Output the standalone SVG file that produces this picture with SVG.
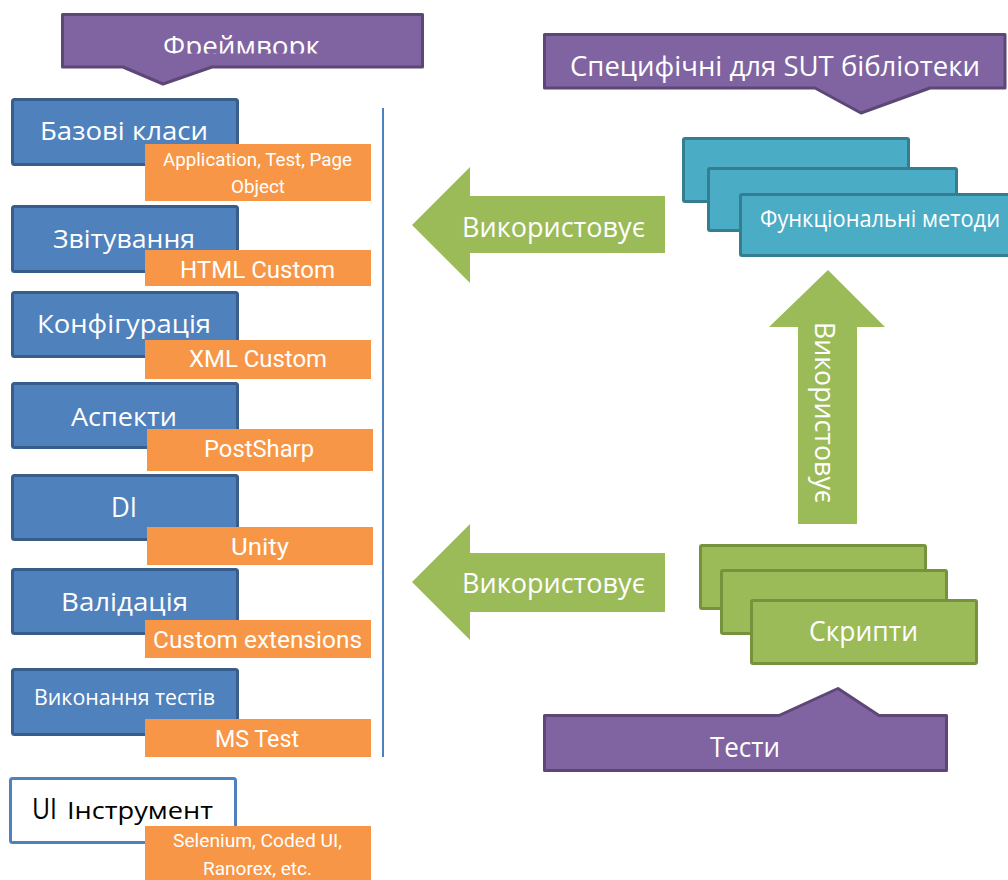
<svg xmlns="http://www.w3.org/2000/svg" width="1008" height="880" viewBox="0 0 1008 880">
<defs>
<style>
.call{fill:#8064a2;stroke:#5c4776;stroke-width:3;stroke-linejoin:round}
.blue{fill:#4f81bd;stroke:#385d8a;stroke-width:3}
.tool{fill:#ffffff;stroke:#4f81bd;stroke-width:3}
.org{fill:#f79646}
.teal{fill:#4bacc6;stroke:#357d91;stroke-width:3}
.grn{fill:#9bbb59;stroke:#76923c;stroke-width:3}
.arrow{fill:#9bbb59}
.t{font-family:"Open Sans","Noto Sans","Liberation Sans",sans-serif;fill:#ffffff}
.o{font-family:Roboto,"Liberation Sans",sans-serif;fill:#ffffff}
.k{font-family:"Open Sans","Noto Sans","Liberation Sans",sans-serif;fill:#000000}
</style>
<clipPath id="fwclip"><rect x="61" y="0" width="363" height="53.5"/></clipPath>
</defs>

<g id="framework-header">
<path class="call" d="M62.5,14.5 H422.5 V67 H212 L163,84 L123,67 H62.5 Z"/>
<text class="t" x="163" y="56" font-size="28" textLength="157" lengthAdjust="spacingAndGlyphs" clip-path="url(#fwclip)">Фреймворк</text>
</g>

<g id="sut-header">
<path class="call" d="M544.5,34.5 H1005 V88 H930 L861,113 L815,88 H544.5 Z"/>
<text class="t" x="570" y="76" font-size="28" textLength="410" lengthAdjust="spacingAndGlyphs">Специфічні для SUT бібліотеки</text>
</g>

<line x1="383" y1="108" x2="383" y2="757" stroke="#4f81bd" stroke-width="2"/>

<g id="base-classes">
<rect class="blue" x="12.5" y="99.5" width="225" height="65" rx="2"/>
<rect class="org" x="145" y="144" width="226" height="57"/>
<text class="t" x="40" y="140" font-size="26" textLength="168" lengthAdjust="spacingAndGlyphs">Базові класи</text>
<text class="o" x="163" y="166" font-size="19" textLength="189" lengthAdjust="spacingAndGlyphs">Application, Test, Page</text>
<text class="o" x="231" y="193" font-size="19" textLength="54" lengthAdjust="spacingAndGlyphs">Object</text>
</g>

<g id="reporting">
<rect class="blue" x="12.5" y="206.5" width="225" height="65" rx="2"/>
<rect class="org" x="145" y="250" width="226" height="36"/>
<text class="t" x="53" y="248" font-size="26" textLength="142" lengthAdjust="spacingAndGlyphs">Звітування</text>
<text class="o" x="180" y="278" font-size="24" textLength="155" lengthAdjust="spacingAndGlyphs">HTML Custom</text>
</g>

<g id="configuration">
<rect class="blue" x="12.5" y="292.5" width="225" height="64" rx="2"/>
<rect class="org" x="145" y="340" width="226" height="39"/>
<text class="t" x="37" y="333" font-size="26" textLength="174" lengthAdjust="spacingAndGlyphs">Конфігурація</text>
<text class="o" x="189" y="367" font-size="24" textLength="138" lengthAdjust="spacingAndGlyphs">XML Custom</text>
</g>

<g id="aspects">
<rect class="blue" x="12.5" y="383.5" width="225" height="64" rx="2"/>
<rect class="org" x="147" y="429" width="226" height="42"/>
<text class="t" x="71" y="426" font-size="26" textLength="106" lengthAdjust="spacingAndGlyphs">Аспекти</text>
<text class="o" x="204" y="457" font-size="24" textLength="110" lengthAdjust="spacingAndGlyphs">PostSharp</text>
</g>

<g id="di">
<rect class="blue" x="12.5" y="475.5" width="225" height="64" rx="2"/>
<rect class="org" x="147" y="527" width="226" height="38"/>
<text class="t" x="111" y="517" font-size="28" textLength="26" lengthAdjust="spacingAndGlyphs">DI</text>
<text class="o" x="231" y="555" font-size="24" textLength="58" lengthAdjust="spacingAndGlyphs">Unity</text>
</g>

<g id="validation">
<rect class="blue" x="12.5" y="569.5" width="225" height="64" rx="2"/>
<rect class="org" x="145" y="620" width="226" height="38"/>
<text class="t" x="61" y="611" font-size="26" textLength="127" lengthAdjust="spacingAndGlyphs">Валідація</text>
<text class="o" x="153" y="648" font-size="24" textLength="209" lengthAdjust="spacingAndGlyphs">Custom extensions</text>
</g>

<g id="test-execution">
<rect class="blue" x="12.5" y="669.5" width="225" height="65" rx="2"/>
<rect class="org" x="145" y="719" width="226" height="38"/>
<text class="t" x="34" y="705" font-size="21" textLength="181" lengthAdjust="spacingAndGlyphs">Виконання тестів</text>
<text class="o" x="215" y="747" font-size="24" textLength="84" lengthAdjust="spacingAndGlyphs">MS Test</text>
</g>

<g id="ui-tool">
<rect class="tool" x="10.5" y="778.5" width="225" height="64" rx="2"/>
<rect class="org" x="145" y="826" width="226" height="54"/>
<text class="k" y="819"><tspan x="32" font-size="29" textLength="25" lengthAdjust="spacingAndGlyphs">UI</tspan><tspan x="67" font-size="23" textLength="146" lengthAdjust="spacingAndGlyphs">Інструмент</tspan></text>
<text class="o" x="173" y="847" font-size="19" textLength="169" lengthAdjust="spacingAndGlyphs">Selenium, Coded UI,</text>
<text class="o" x="203" y="875" font-size="19" textLength="109" lengthAdjust="spacingAndGlyphs">Ranorex, etc.</text>
</g>

<g id="functional-methods">
<rect class="teal" x="683.5" y="138.5" width="225" height="63" rx="1.5"/>
<rect class="teal" x="708.5" y="168.5" width="248" height="62" rx="1.5"/>
<rect class="teal" x="740.5" y="194.5" width="280" height="61" rx="1.5"/>
<text class="t" x="760" y="227" font-size="23" textLength="240" lengthAdjust="spacingAndGlyphs">Функціональні методи</text>
</g>

<g id="scripts">
<rect class="grn" x="700.5" y="545.5" width="225" height="63" rx="1.5"/>
<rect class="grn" x="721.5" y="570.5" width="225" height="63" rx="1.5"/>
<rect class="grn" x="751.5" y="600.5" width="225" height="63" rx="1.5"/>
<text class="t" x="809" y="641" font-size="28" textLength="109" lengthAdjust="spacingAndGlyphs">Скрипти</text>
</g>

<g id="tests">
<path class="call" d="M544.5,715.5 H779 L838,688.5 L879,715.5 H946.5 V770.5 H544.5 Z"/>
<text class="t" x="710" y="757" font-size="28" textLength="70" lengthAdjust="spacingAndGlyphs">Тести</text>
</g>

<g id="connectors">
<g id="uses-top">
<polygon class="arrow" points="412,225 470,167 470,196 665,196 665,253 470,253 470,283"/>
<text class="t" x="462" y="237" font-size="28" textLength="183" lengthAdjust="spacingAndGlyphs">Використовує</text>
</g>
<g id="uses-bottom">
<polygon class="arrow" points="412,582 470,524 470,553 665,553 665,612 470,612 470,640"/>
<text class="t" x="462" y="593" font-size="28" textLength="183" lengthAdjust="spacingAndGlyphs">Використовує</text>
</g>
<g id="uses-up">
<polygon class="arrow" points="828,270 885,327 857,327 857,524 798,524 798,327 769,327"/>
<text class="t" transform="translate(815,322) rotate(90)" x="0" y="0" font-size="28" textLength="181" lengthAdjust="spacingAndGlyphs">Використовує</text>
</g>
</g>
</svg>
